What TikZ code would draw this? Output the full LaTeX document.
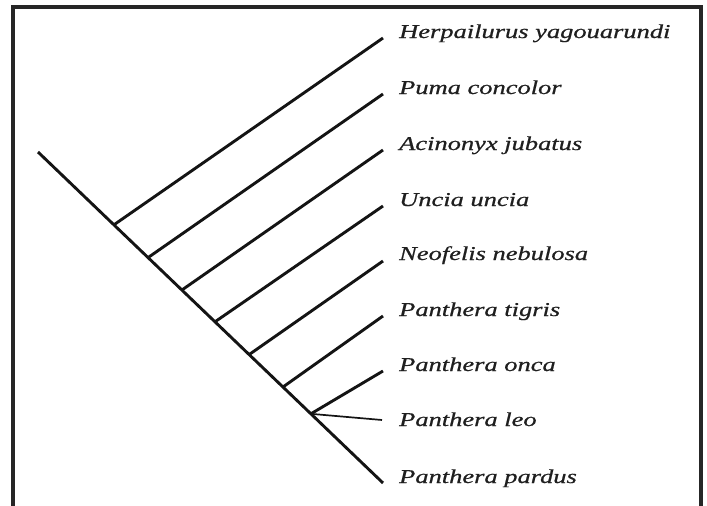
\documentclass[tikz,border=0pt]{standalone}
\usepackage{fontspec}
\usepackage{graphicx}
\setmainfont{Liberation Serif}
\newfontfamily\taxonfont[FakeBold=0.6]{Liberation Serif}
\usetikzlibrary{calc}
\newcommand{\taxon}[1]{\scalebox{1.35}[1]{\taxonfont\itshape #1}}
\begin{document}
\begin{tikzpicture}[x=1pt,y=-1pt,
  branch/.style={line width=2.9pt, color=black!92},
  thinbranch/.style={line width=1.7pt, color=black!92},
  frameline/.style={line width=3.6pt, color=black!85},
  lab/.style={anchor=base west, inner sep=0pt, font=\fontsize{19.6}{22}\selectfont, text=black!88}]
\useasboundingbox (0,0) rectangle (707,506);
% frame (open at the bottom)
\draw[frameline] (13,506) -- (13,7) -- (701,7) -- (701,506);
% main stem
\coordinate (root) at (38,152);
\coordinate (t9) at (383,483);
\draw[branch] (root) -- (t9);
% junctions on the stem
\coordinate (j1) at ($(root)!0.220!(t9)$);
\coordinate (j2) at ($(root)!0.319!(t9)$);
\coordinate (j3) at ($(root)!0.417!(t9)$);
\coordinate (j4) at ($(root)!0.513!(t9)$);
\coordinate (j5) at ($(root)!0.612!(t9)$);
\coordinate (j6) at ($(root)!0.710!(t9)$);
\coordinate (j7) at ($(root)!0.791!(t9)$);
% tips
\coordinate (t1) at (383,38);
\coordinate (t2) at (383,94);
\coordinate (t3) at (383,150);
\coordinate (t4) at (383,206);
\coordinate (t5) at (383,261);
\coordinate (t6) at (383,316);
\coordinate (t7) at (383,371);
\coordinate (t8) at (382,420);
% branches
\draw[branch] (j1) -- (t1);
\draw[branch] (j2) -- (t2);
\draw[branch] (j3) -- (t3);
\draw[branch] (j4) -- (t4);
\draw[branch] (j5) -- (t5);
\draw[branch] (j6) -- (t6);
\draw[branch] (j7) -- (t7);
\draw[thinbranch] (j7) -- (t8);
% labels
\node[lab] (n1) at (399,38) {\taxon{Herpailurus yagouarundi}};
\node[lab] (n2) at (399,94) {\taxon{Puma concolor}};
\node[lab] (n3) at (399,150) {\taxon{Acinonyx jubatus}};
\node[lab] (n4) at (399,206) {\taxon{Uncia uncia}};
\node[lab] (n5) at (399,260) {\taxon{Neofelis nebulosa}};
\node[lab] (n6) at (399,316) {\taxon{Panthera tigris}};
\node[lab] (n7) at (399,371) {\taxon{Panthera onca}};
\node[lab] (n8) at (399,426) {\taxon{Panthera leo}};
\node[lab] (n9) at (399,483) {\taxon{Panthera pardus}};
\end{tikzpicture}
\end{document}
